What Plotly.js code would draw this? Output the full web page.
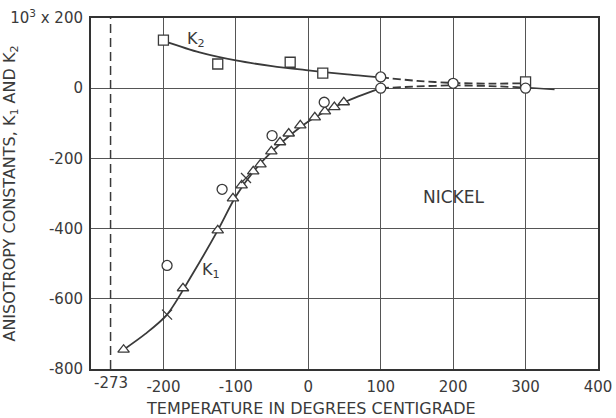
<!DOCTYPE html>
<html><head><meta charset="utf-8">
<script src="https://cdn.plot.ly/plotly-3.0.1.min.js"></script>
<style>body{margin:0;background:#fff}#c{width:616px;height:418px}</style>
</head><body><div id="c"></div>
<script>
// K2 data (squares / circles) and smooth curves
const k2SqX = [-200, -125, -25, 20, 300];
const k2SqY = [137, 69, 74, 43, 18];
const k2CirX = [100, 200];
const k2CirY = [32, 14];
const k2CurveX = [-200, -150, -100, -50, 0, 50, 100];
const k2CurveY = [135, 102, 79, 63, 51, 40, 31];
const k2DashX = [100, 150, 200, 250, 300];
const k2DashY = [31, 21, 15, 13, 14];

// K1 data
const k1TriX = [-255, -173, -125, -104, -92, -76, -66, -51, -39, -27, -11, 9, 23, 36, 49];
const k1TriY = [-745, -570, -405, -314, -277, -237, -217, -180, -154, -129, -106, -83, -66, -54, -40];
const k1CirX = [-195, -119, -50, 22, 100, 300];
const k1CirY = [-505, -288, -135, -40, 0, 0];
const k1CrossX = [-195, -86];
const k1CrossY = [-645, -256];
const k1CurveX = [-255, -225, -195, -160, -125, -100, -75, -50, 0, 50, 100];
const k1CurveY = [-745, -700, -645, -530, -405, -308, -236, -180, -95, -40, 0];
const k1DashX = [100, 150, 200, 250, 300];
const k1DashY = [0, 5, 8, 6, 2];
const k1TailX = [300, 320, 340];
const k1TailY = [2, -2, -4];

const xTicks = [-200, -100, 0, 100, 200, 300, 400];
const yTicks = [-800, -600, -400, -200, 0, 200];
const yTickText = ['-800', '-600', '-400', '-200', '0', '10<sup>3</sup> x 200'];
const xTickText = ['-200', '-100', '0', '100', '200', '300', '400'];
const absZero = -273;

const ink = '#3a3a3a';
const mk = (sym) => ({symbol: sym, size: 10, color: '#fff', line: {color: ink, width: 1.3}});

const traces = [
  {x: k2CurveX, y: k2CurveY, mode: 'lines', line: {color: ink, width: 1.8, shape: 'spline', smoothing: 0.8}},
  {x: k2DashX, y: k2DashY, mode: 'lines', line: {color: ink, width: 1.8, dash: '8px,4px', shape: 'spline', smoothing: 0.8}},
  {x: k1CurveX, y: k1CurveY, mode: 'lines', line: {color: ink, width: 1.8, shape: 'spline', smoothing: 0.8}},
  {x: k1DashX, y: k1DashY, mode: 'lines', line: {color: ink, width: 1.8, dash: '8px,4px', shape: 'spline', smoothing: 0.8}},
  {x: k1TailX, y: k1TailY, mode: 'lines', line: {color: ink, width: 1.5}},
  {x: k2SqX, y: k2SqY, mode: 'markers', marker: mk('square')},
  {x: k2CirX, y: k2CirY, mode: 'markers', marker: mk('circle')},
  {x: k1TriX, y: k1TriY, mode: 'markers', marker: mk('triangle-up')},
  {x: k1CirX, y: k1CirY, mode: 'markers', marker: mk('circle')},
  {x: k1CrossX, y: k1CrossY, mode: 'markers', marker: {symbol: 'x-thin', size: 10, color: ink, line: {color: ink, width: 1.3}}}
];

const font = {family: 'DejaVu Sans, sans-serif', color: ink, size: 15};

const layout = {
  width: 616, height: 418,
  margin: {l: 91, r: 18, t: 18, b: 49},
  paper_bgcolor: '#fff', plot_bgcolor: '#fff',
  showlegend: false,
  font: font,
  xaxis: {
    range: [-300, 400], tickmode: 'array', tickvals: xTicks, ticktext: xTickText,
    showgrid: true, gridcolor: '#555', gridwidth: 1, zeroline: false,
    showline: true, linecolor: '#333', linewidth: 2, mirror: true,
    ticks: '', ticklabelstandoff: 3,
    tickfont: {size: 15, color: ink}
  },
  yaxis: {
    range: [-800, 200], tickmode: 'array', tickvals: yTicks, ticktext: yTickText,
    showgrid: true, gridcolor: '#555', gridwidth: 1, zeroline: false,
    showline: true, linecolor: '#333', linewidth: 2, mirror: true,
    ticks: '', ticklabelstandoff: 3,
    tickfont: {size: 15, color: ink},
    title: {text: 'ANISOTROPY CONSTANTS, K<sub>1</sub> AND K<sub>2</sub>', font: {size: 16, color: ink}, standoff: 4}
  },
  shapes: [
    {type: 'line', xref: 'x', yref: 'paper', x0: absZero, x1: absZero, y0: 0, y1: 1,
     line: {color: ink, width: 1.5, dash: '9px,5px'}}
  ],
  annotations: [
    {x: absZero, y: 0, xref: 'x', yref: 'paper', yanchor: 'top', yshift: -3, text: String(absZero), showarrow: false, font: {size: 15, color: ink}},
    {x: 0.434, y: 0, xref: 'paper', yref: 'paper', yanchor: 'top', yshift: -28, text: 'TEMPERATURE IN DEGREES CENTIGRADE', showarrow: false, font: {size: 16, color: ink}},
    {x: -155, y: 140, xref: 'x', yref: 'y', text: 'K<sub>2</sub>', showarrow: false, font: {size: 16, color: ink}},
    {x: -135, y: -520, xref: 'x', yref: 'y', text: 'K<sub>1</sub>', showarrow: false, font: {size: 16, color: ink}},
    {x: 200, y: -310, xref: 'x', yref: 'y', text: 'NICKEL', showarrow: false, font: {size: 17, color: ink}}
  ]
};

Plotly.newPlot('c', traces, layout, {displayModeBar: false, staticPlot: true});
</script>
</body></html>
